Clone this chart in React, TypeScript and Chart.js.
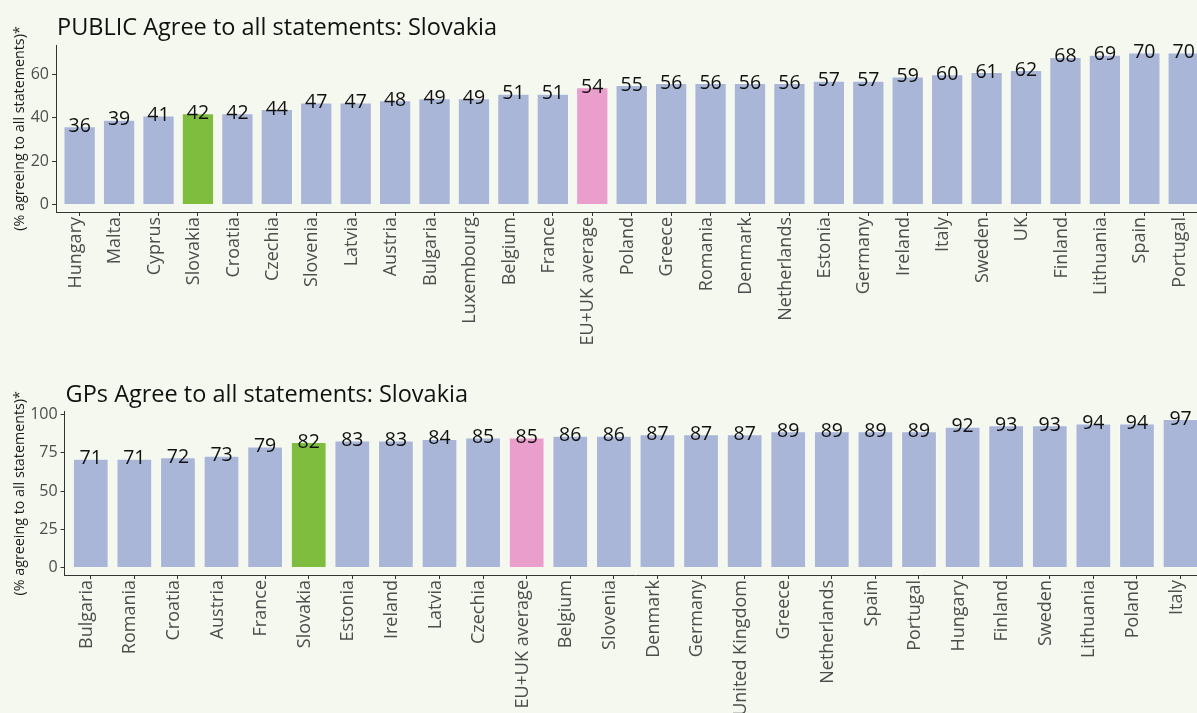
import React, { useEffect, useRef } from "react";
import { Chart, registerables } from "chart.js";

Chart.register(...registerables);

// ---------- DATA ----------
const publicCountries = [
  "Hungary", "Malta", "Cyprus", "Slovakia", "Croatia", "Czechia", "Slovenia", "Latvia",
  "Austria", "Bulgaria", "Luxembourg", "Belgium", "France", "EU+UK average", "Poland",
  "Greece", "Romania", "Denmark", "Netherlands", "Estonia", "Germany", "Ireland", "Italy",
  "Sweden", "UK", "Finland", "Lithuania", "Spain", "Portugal",
];
const publicValues = [
  36, 39, 41, 42, 42, 44, 47, 47, 48, 49, 49, 51, 51, 54, 55, 56, 56, 56, 56, 57, 57, 59,
  60, 61, 62, 68, 69, 70, 70,
];
const gpCountries = [
  "Bulgaria", "Romania", "Croatia", "Austria", "France", "Slovakia", "Estonia", "Ireland",
  "Latvia", "Czechia", "EU+UK average", "Belgium", "Slovenia", "Denmark", "Germany",
  "United Kingdom", "Greece", "Netherlands", "Spain", "Portugal", "Hungary", "Finland",
  "Sweden", "Lithuania", "Poland", "Italy",
];
const gpValues = [
  71, 71, 72, 73, 79, 82, 83, 83, 84, 85, 85, 86, 86, 87, 87, 87, 89, 89, 89, 89, 92, 93,
  93, 94, 94, 97,
];
const publicYTicks = [0, 20, 40, 60];
const gpYTicks = [0, 25, 50, 75, 100];
const publicTitle = "PUBLIC Agree to all statements: Slovakia";
const gpTitle = "GPs Agree to all statements: Slovakia";
const yAxisTitle = "(% agreeing to all statements)*";
const focusCountry = "Slovakia";
const averageLabel = "EU+UK average";

// ---------- STYLE ----------
const FONT = "'Open Sans'";
const BG = "#F4F8EF";
const BAR = "#A9B6D7";
const GREEN = "#7EBD3E";
const PINK = "#EA9ECB";
const AXIS = "#333333";
const TICK_TEXT = "#4D4D4D";
const CANVAS_W = 1212;

Chart.defaults.font.family = FONT;

function colorFor(c: string) {
  if (c === focusCountry) return GREEN;
  if (c === averageLabel) return PINK;
  return BAR;
}

type PanelCfg = {
  labels: string[];
  values: number[];
  yTicks: number[];
  yMin: number;
  yMax: number;
  title: string;
  yWidth: number;
  xHeight: number;
  padTop: number;
  padRight: number;
  titleBaseline: number;
};

function makeConfig(p: PanelCfg): any {
  const n = p.labels.length;
  const titlePlugin = {
    id: "panelTitle",
    afterDraw(chart: any) {
      const ctx = chart.ctx;
      ctx.save();
      ctx.font = `23.5px ${FONT}`;
      ctx.fillStyle = "#111111";
      ctx.textAlign = "left";
      ctx.textBaseline = "alphabetic";
      ctx.fillText(p.title, chart.chartArea.left + 1, p.titleBaseline);
      ctx.restore();
    },
  };
  const valuePlugin = {
    id: "valueLabels",
    afterDatasetsDraw(chart: any) {
      const ctx = chart.ctx;
      const meta = chart.getDatasetMeta(0);
      ctx.save();
      ctx.font = `19.5px ${FONT}`;
      ctx.fillStyle = "#111111";
      ctx.textAlign = "center";
      ctx.textBaseline = "middle";
      meta.data.forEach((el: any, i: number) => {
        ctx.fillText(String(Math.round(p.values[i])), el.x, el.y);
      });
      ctx.restore();
    },
  };
  return {
    type: "bar",
    data: {
      datasets: [
        {
          data: p.values.map((v, i) => ({ x: i, y: v })),
          backgroundColor: p.labels.map(colorFor),
          borderColor: "rgba(255,255,255,0.35)",
          borderWidth: 1,
          barPercentage: 0.82,
          categoryPercentage: 1,
        },
      ],
    },
    options: {
      animation: false,
      responsive: false,
      layout: { padding: { top: p.padTop, left: 0, right: p.padRight, bottom: 0 } },
      plugins: {
        legend: { display: false },
        tooltip: { enabled: false },
        title: { display: false },
      },
      scales: {
        x: {
          type: "linear",
          offset: false,
          min: -0.6,
          max: n - 0.4,
          afterBuildTicks: (s: any) => {
            s.ticks = p.labels.map((_, i) => ({ value: i }));
          },
          afterFit: (s: any) => {
            s.height = p.xHeight;
            s.paddingLeft = 0;
            s.paddingRight = 0;
          },
          ticks: {
            autoSkip: false,
            minRotation: 90,
            maxRotation: 90,
            padding: 1,
            labelOffset: -4,
            color: TICK_TEXT,
            font: { family: FONT, size: 18 },
            callback: (_v: any, idx: number) => p.labels[idx],
          },
          grid: { offset: false, drawOnChartArea: false, drawTicks: true, tickLength: 4, color: AXIS },
          border: { display: true, color: AXIS, width: 1 },
        },
        y: {
          type: "linear",
          min: p.yMin,
          max: p.yMax,
          afterBuildTicks: (s: any) => {
            s.ticks = p.yTicks.map((v) => ({ value: v }));
          },
          afterFit: (s: any) => {
            s.width = p.yWidth;
            s.paddingTop = 0;
            s.paddingBottom = 0;
          },
          ticks: {
            padding: 3,
            color: TICK_TEXT,
            font: { family: FONT, size: 16 },
            callback: (v: any) => String(v),
          },
          grid: { drawOnChartArea: false, drawTicks: true, tickLength: 4, color: AXIS },
          border: { display: true, color: AXIS, width: 1 },
          title: {
            display: true,
            text: yAxisTitle,
            color: "#1A1A1A",
            font: { family: FONT, size: 14.3 },
            padding: { top: 11, bottom: 0 },
          },
        },
      },
    },
    plugins: [titlePlugin, valuePlugin],
  };
}

function Panel(props: { cfg: PanelCfg; top: number; height: number }) {
  const ref = useRef<HTMLCanvasElement | null>(null);
  useEffect(() => {
    if (!ref.current) return;
    const chart = new Chart(ref.current, makeConfig(props.cfg));
    return () => chart.destroy();
  }, []);
  return (
    <div style={{ position: "absolute", left: 0, top: props.top, width: CANVAS_W, height: props.height }}>
      <canvas
        ref={ref}
        width={CANVAS_W}
        height={props.height}
        style={{ width: CANVAS_W, height: props.height, display: "block" }}
      />
    </div>
  );
}

export default function App() {
  const publicCfg: PanelCfg = {
    labels: publicCountries,
    values: publicValues,
    yTicks: publicYTicks,
    yMin: -3.5,
    yMax: 73.5,
    title: publicTitle,
    yWidth: 56,
    xHeight: 148,
    padTop: 45,
    padRight: CANVAS_W - 1207.4,
    titleBaseline: 35,
  };
  const gpCfg: PanelCfg = {
    labels: gpCountries,
    values: gpValues,
    yTicks: gpYTicks,
    yMin: -4.85,
    yMax: 101.85,
    title: gpTitle,
    yWidth: 64.6,
    xHeight: 185,
    padTop: 51.6,
    padRight: CANVAS_W - 1206.7,
    titleBaseline: 41.7,
  };
  return (
    <div
      style={{
        position: "fixed",
        left: 0,
        top: 0,
        width: 1197,
        height: 713,
        overflow: "hidden",
        background: BG,
      }}
    >
      <Panel cfg={publicCfg} top={0} height={360} />
      <Panel cfg={gpCfg} top={360} height={400} />
    </div>
  );
}
